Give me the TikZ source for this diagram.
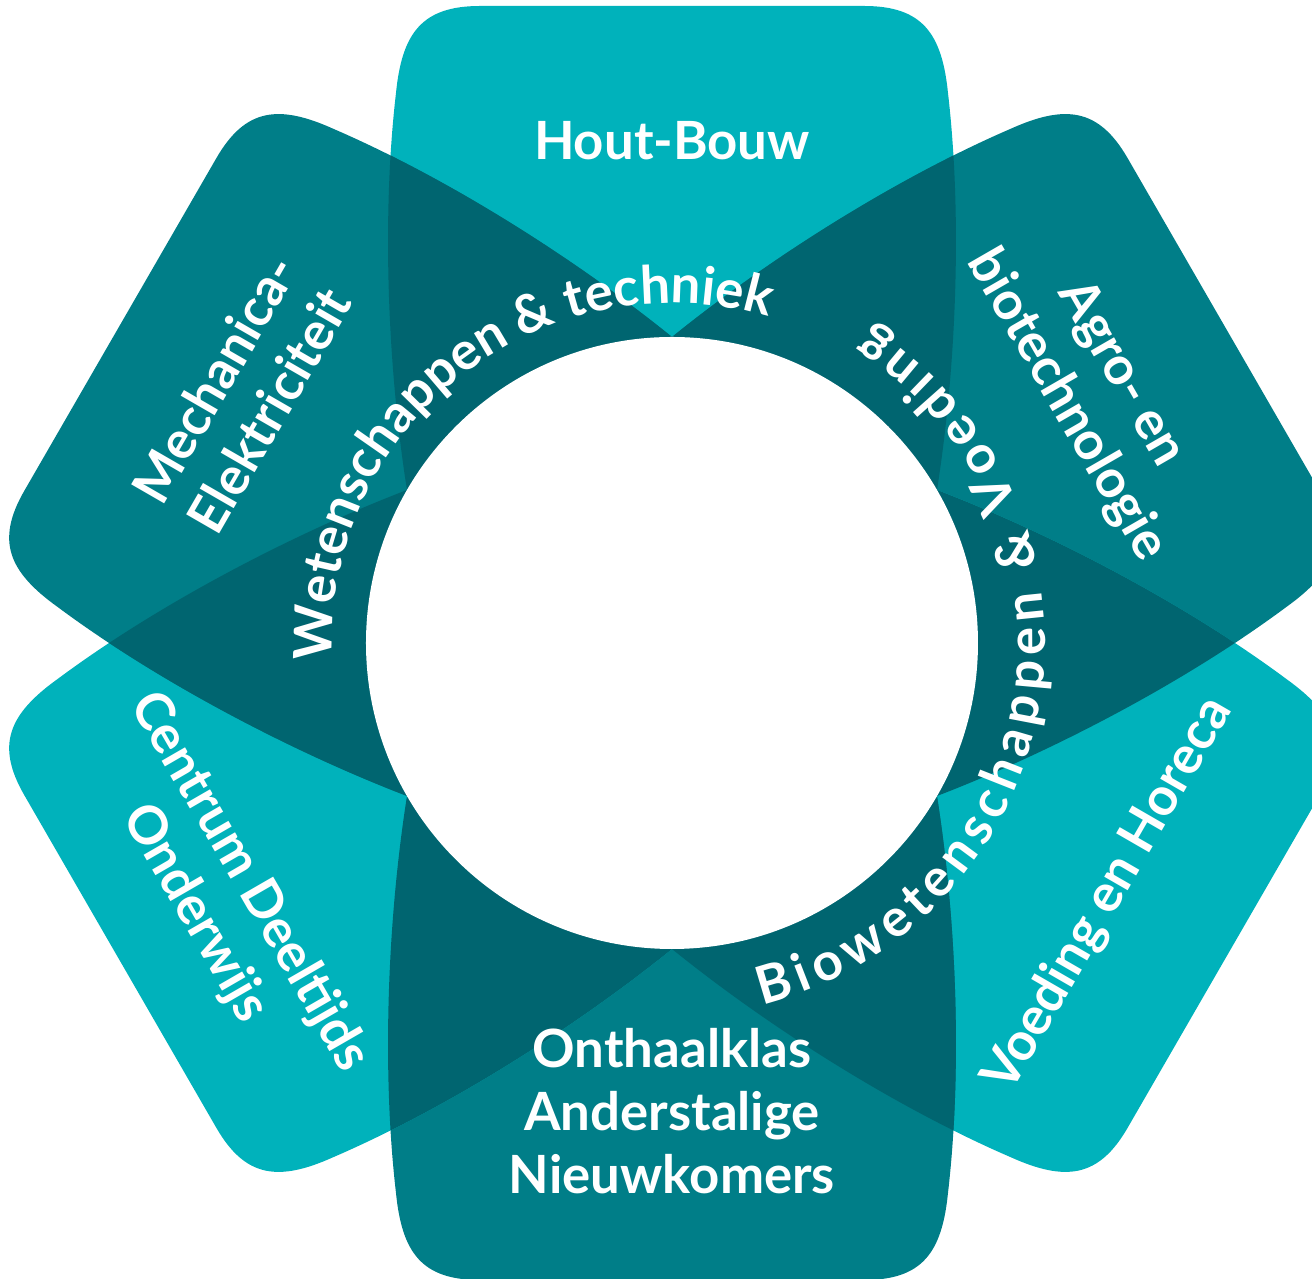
\documentclass[tikz,border=0pt]{standalone}
\usepackage{fontspec}
\setmainfont{Lato}
\usetikzlibrary{decorations.text}
\definecolor{lightteal}{RGB}{0,178,187}
\definecolor{midteal}{RGB}{0,126,136}
\definecolor{darkteal}{RGB}{0,101,112}
\newcommand{\ringfont}{\fontsize{15}{18}\selectfont\bfseries}
\tikzstyle{petal_txt} = [text=white, font=\ringfont, align=center]
\tikzstyle{ring_txt} = [decorate, decoration={text along path, text color=white, text align=fit to path}]
\newcommand{\petal}{(0,0) -- (30:3.06) .. controls (2.85,2.8) and (2.9,4.3) .. (2.76,5.5) .. controls (2.70,6.1) and (2.5,6.37) .. (1.92,6.37) -- (-1.92,6.37) .. controls (-2.5,6.37) and (-2.70,6.1) .. (-2.76,5.5) .. controls (-2.9,4.3) and (-2.85,2.8) .. (150:3.06) -- cycle}

\begin{document}
\begin{tikzpicture}
\useasboundingbox (-6.72,-6.36) rectangle (6.40,6.43);
% petals
\foreach \r/\c in {0/lightteal, -60/midteal, -120/lightteal, 180/midteal, 120/lightteal, 60/midteal}
{
    \fill[\c, rotate=\r] \petal;
}
% overlap of two neighbours
\foreach \r in {0,60,...,300}
{
    \begin{scope}
        \clip[rotate=\r] \petal;
        \fill[darkteal, rotate=\r+60] \petal;
    \end{scope}
}
\fill[white] (0,0) circle (3.06);

\node[petal_txt] (hout) at (0,5.02) {Hout-Bouw};
\node[petal_txt, rotate=-60] (agro) at (31:4.92) {Agro- en\\biotechnologie};
\node[petal_txt, rotate=60] (voeding) at (-30:5.04) {Voeding en Horeca};
\node[petal_txt] (onthaal) at (0,-4.68) {Onthaalklas\\Anderstalige\\Nieuwkomers};
\node[petal_txt, rotate=-60] (centrum) at (209.5:5.17) {Centrum Deeltijds\\Onderwijs};
\node[petal_txt, rotate=60] (mechanica) at (150:4.97) {Mechanica-\\Elektriciteit};

% \path[ring_txt] (180:3.40) arc[start angle=180, end angle=75, radius=3.40];
\path[ring_txt, decoration={text={|\ringfont|Wetenschappen {\&} techniek}}] (183:3.40) arc[start angle=183, end angle=73.5, radius=3.40];
\path[ring_txt, decoration={text={|\ringfont|Biowetenschappen {\&} Voeding}}] (-76:3.73) arc[start angle=-76, end angle=57.8, radius=3.73];
\end{tikzpicture}
\end{document}
